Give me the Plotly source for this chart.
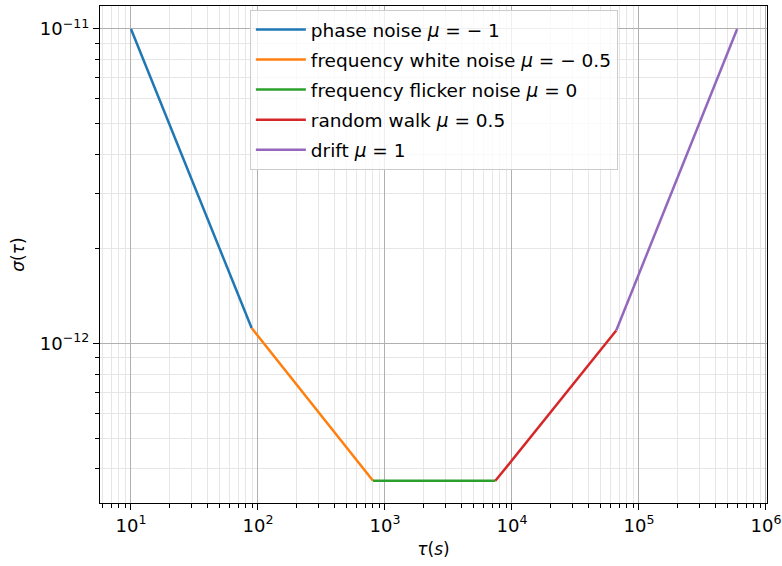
import plotly.graph_objects as go

# Allan deviation regimes: endpoints of each power-law segment
labels = [
    "phase noise <i>μ</i> = − 1",
    "frequency white noise <i>μ</i> = − 0.5",
    "frequency flicker noise <i>μ</i> = 0",
    "random walk <i>μ</i> = 0.5",
    "drift <i>μ</i> = 1",
]
tau_breaks = [10.0, 89.1, 805.0, 7400.0, 66200.0, 593000.0]
sigma_breaks = [1.0e-11, 1.12e-12, 3.66e-13, 3.66e-13, 1.10e-12, 1.0e-11]
colors = ["#1f77b4", "#ff7f0e", "#2ca02c", "#d62728", "#9467bd"]

# decade tick positions and their labels
x_decades = [1, 2, 3, 4, 5, 6]
y_decades = [-12, -11]


def decade_ticks(exps):
    vals = [10.0 ** e for e in exps]
    text = [f"10<sup>{str(e).replace('-', '−')}</sup>" for e in exps]
    return vals, text


def minor_ticks(lo, hi):
    return [m * 10.0 ** e for e in range(lo, hi) for m in range(2, 10)]


fig = go.Figure()
for i, name in enumerate(labels):
    fig.add_trace(go.Scatter(
        x=tau_breaks[i:i + 2],
        y=sigma_breaks[i:i + 2],
        mode="lines",
        name=name,
        legendgroup=f"g{i}",
        line=dict(color=colors[i], width=2.5),
    ))

font = "DejaVu Sans, Verdana, sans-serif"


def axis_style(exps, lo, hi):
    vals, text = decade_ticks(exps)
    return dict(
        type="log",
        tickmode="array",
        tickvals=vals,
        ticktext=text,
        ticklabeloverflow="allow",
        automargin=False,
        showline=True,
        linecolor="black",
        linewidth=1.3,
        mirror=True,
        ticks="outside",
        ticklen=6,
        tickwidth=1.2,
        tickcolor="black",
        showgrid=True,
        gridcolor="#b0b0b0",
        gridwidth=1.2,
        zeroline=False,
        tickfont=dict(size=18, color="black", family=font),
        minor=dict(
            tickmode="array",
            tickvals=minor_ticks(lo, hi),
            ticks="outside",
            ticklen=3.5,
            tickwidth=1,
            tickcolor="black",
            showgrid=True,
            gridcolor="#e6e6e6",
            gridwidth=1,
        ),
    )


fig.update_xaxes(
    **axis_style(x_decades, 0, 6),
    range=[0.756, 6.008],
    title=dict(text="<i>τ</i>(<i>s</i>)", font=dict(size=17, family=font, color="black"), standoff=8),
)
fig.update_yaxes(
    **axis_style(y_decades, -13, -11),
    range=[-12.507, -10.927],
    title=dict(text="<i>σ</i>(<i>τ</i>)", font=dict(size=17, family=font, color="black"), standoff=10),
)

fig.update_layout(
    width=782,
    height=566,
    margin=dict(l=100, r=15, t=6, b=63),
    plot_bgcolor="white",
    paper_bgcolor="white",
    font=dict(family=font, size=16, color="black"),
    legend=dict(
        x=0.2247,
        y=0.992,
        xanchor="left",
        yanchor="top",
        bgcolor="rgba(255,255,255,0.8)",
        bordercolor="#cccccc",
        borderwidth=1,
        font=dict(size=18.5, family=font, color="black"),
        tracegroupgap=3,
        itemwidth=50,
    ),
    showlegend=True,
)

fig.write_html("out.html")
